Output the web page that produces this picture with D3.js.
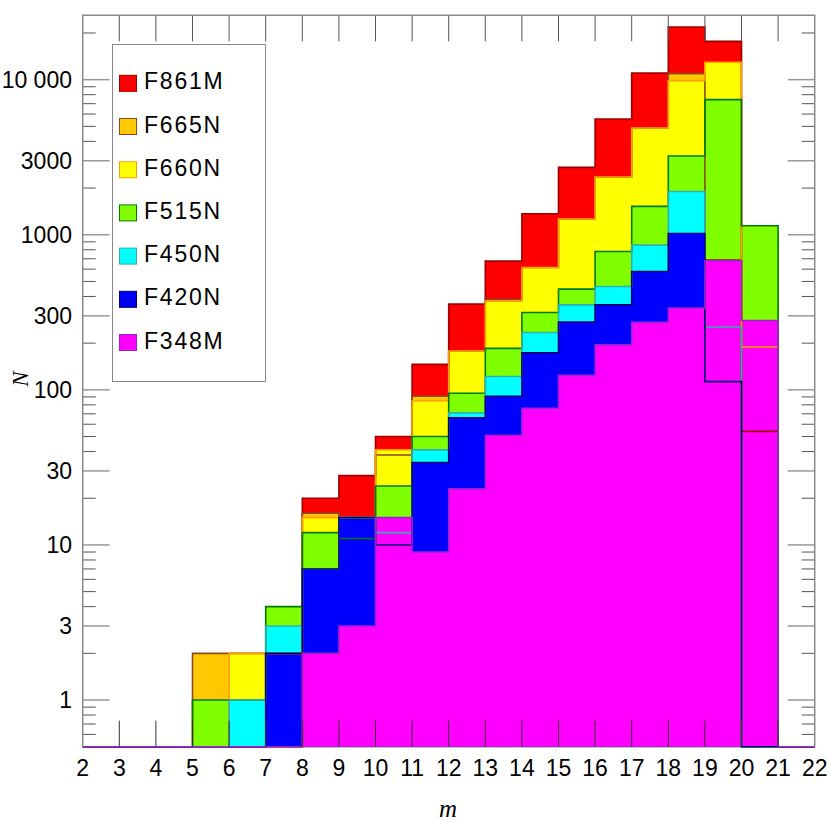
<!DOCTYPE html>
<html>
<head>
<meta charset="utf-8">
<script src="https://cdn.jsdelivr.net/npm/d3@7"></script>
<style>
  html, body { margin: 0; padding: 0; background: #fff; }
  svg { display: block; }
</style>
</head>
<body>
<div id="chart"></div>
<script>
// Bin left edges (magnitude m), one bin per unit
const binEdges = [2, 3, 4, 5, 6, 7, 8, 9, 10, 11, 12, 13, 14, 15, 16, 17, 18, 19, 20, 21];
const mMax = 22;

// Counts per bin for each filter
const F861M = [0, 0, 0, 0, 0, 0, 20, 28, 50, 146, 357, 676, 1365, 2717, 5576, 11040, 21860, 17660, 54, 0];
const F665N = [0, 0, 0, 2, 2, 2, 16, 15, 38, 91, 178, 382, 615, 1262, 2355, 4880, 10930, 690, 0, 0];
const F660N = [0, 0, 0, 0, 2, 2, 15, 15, 41, 85, 178, 373, 615, 1262, 2355, 4880, 9860, 12940, 189, 0];
const F515N = [0, 0, 0, 1, 1, 4, 12, 11, 24, 50, 95, 185, 315, 446, 780, 1523, 3220, 7430, 1143, 0];
const F450N = [0, 0, 0, 0, 1, 3, 7, 15, 12, 41, 71, 122, 234, 353, 464, 857, 1901, 254, 0, 0];
const F420N = [0, 0, 0, 0, 0, 2, 7, 15, 10, 34, 66, 91, 173, 274, 353, 580, 1019, 113, 0, 0];
const F348M = [0, 0, 0, 0, 0, 0, 2, 3, 15, 9, 23, 51, 76, 124, 195, 273, 337, 679, 280, 0];

const filterNames = ['F861M', 'F665N', 'F660N', 'F515N', 'F450N', 'F420N', 'F348M'];
const filterCounts = [F861M, F665N, F660N, F515N, F450N, F420N, F348M];
const fillColors = ['#ff0000', '#ffc800', '#ffff00', '#80ff00', '#00ffff', '#0000ff', '#ff00ff'];
const strokeColors = ['#9a0000', '#8b4a20', '#ffa000', '#007a00', '#30b0b0', '#000070', '#9a20d0'];

// Axis ticks
const xTicks = [2, 3, 4, 5, 6, 7, 8, 9, 10, 11, 12, 13, 14, 15, 16, 17, 18, 19, 20, 21, 22];
const yMajorTicks = [1, 3, 10, 30, 100, 300, 1000, 3000, 10000];
const yTickLabels = ['1', '3', '10', '30', '100', '300', '1000', '3000', '10 000'];
const yMinorTicks = [0.6, 0.7, 0.8, 0.9, 2, 4, 5, 6, 7, 8, 9, 20, 40, 50, 60, 70, 80, 90,
    200, 400, 500, 600, 700, 800, 900, 2000, 4000, 5000, 6000, 7000, 8000, 9000, 20000];

const width = 830;
const height = 830;
const plot = { left: 82.7, right: 814.7, top: 15.3, bottom: 746.7 };
const yMin = 0.5;

const svg = d3.select('#chart').append('svg')
    .attr('width', width)
    .attr('height', height);

// Scales
const x = d3.scaleLinear().domain([2, mMax]).range([plot.left, plot.right]);
const y = d3.scaleLog().domain([yMin, 26000]).range([plot.bottom, plot.top]).clamp(true);
const yv = v => y(Math.max(v, yMin));

// Step data: one point per bin edge, last value repeated at the right edge
const stepData = counts => binEdges.map((m, i) => ({ m, v: counts[i] }))
    .concat([{ m: mMax, v: counts[counts.length - 1] }]);

const area = d3.area()
    .curve(d3.curveStepAfter)
    .x(d => x(d.m))
    .y0(plot.bottom)
    .y1(d => yv(d.v));

const line = d3.line()
    .curve(d3.curveStepAfter)
    .x(d => x(d.m))
    .y(d => yv(d.v));

// Bottom frame line (covered by outlines)
svg.append('line')
    .attr('x1', plot.left).attr('x2', plot.right)
    .attr('y1', plot.bottom).attr('y2', plot.bottom)
    .attr('stroke', '#888').attr('stroke-width', 1.5);

// Fills first, in drawing order
svg.append('g').selectAll('path')
    .data(filterCounts)
    .enter()
    .append('path')
    .attr('d', d => area(stepData(d)))
    .attr('fill', (d, i) => fillColors[i])
    .attr('stroke', 'none');

// Then all outlines on top
svg.append('g').selectAll('path')
    .data(filterCounts)
    .enter()
    .append('path')
    .attr('d', d => line(stepData(d)))
    .attr('fill', 'none')
    .attr('stroke', (d, i) => strokeColors[i])
    .attr('stroke-width', 1.6);

// Ticks
const ticks = svg.append('g');
const innerX = xTicks.filter(t => t > 2 && t < mMax);
innerX.forEach(t => {
    ticks.append('line')
        .attr('x1', x(t)).attr('x2', x(t))
        .attr('y1', plot.top).attr('y2', plot.top + 26)
        .attr('stroke', '#555').attr('stroke-width', 1);
    ticks.append('line')
        .attr('x1', x(t)).attr('x2', x(t))
        .attr('y1', plot.bottom).attr('y2', plot.bottom - 26)
        .attr('stroke', '#333').attr('stroke-width', 1);
});

yMajorTicks.forEach(t => {
    [[plot.left, plot.left + 27], [plot.right, plot.right - 27]].forEach(([a, b]) => {
        ticks.append('line')
            .attr('x1', a).attr('x2', b)
            .attr('y1', y(t)).attr('y2', y(t))
            .attr('stroke', '#999').attr('stroke-width', 1.5);
    });
});

yMinorTicks.forEach(t => {
    [[plot.left, plot.left + 13], [plot.right, plot.right - 13]].forEach(([a, b]) => {
        ticks.append('line')
            .attr('x1', a).attr('x2', b)
            .attr('y1', y(t)).attr('y2', y(t))
            .attr('stroke', '#555').attr('stroke-width', 1);
    });
});

// Frame: left, top, right
svg.append('path')
    .attr('d', `M${plot.left},${plot.bottom}V${plot.top}H${plot.right}V${plot.bottom}`)
    .attr('fill', 'none')
    .attr('stroke', '#888')
    .attr('stroke-width', 1.5);

// Tick labels
const labelFont = '"Liberation Sans", Arial, Helvetica, sans-serif';

svg.append('g').selectAll('text')
    .data(xTicks)
    .enter()
    .append('text')
    .attr('x', d => x(d))
    .attr('y', 768)
    .attr('text-anchor', 'middle')
    .attr('dominant-baseline', 'central')
    .attr('font-family', labelFont)
    .attr('font-size', '23px')
    .attr('fill', '#000')
    .text(d => d);

svg.append('g').selectAll('text')
    .data(yMajorTicks)
    .enter()
    .append('text')
    .attr('x', 72)
    .attr('y', d => y(d))
    .attr('text-anchor', 'end')
    .attr('dominant-baseline', 'central')
    .attr('font-family', labelFont)
    .attr('font-size', '23px')
    .attr('fill', '#000')
    .text((d, i) => yTickLabels[i]);

// Axis titles
svg.append('text')
    .attr('x', 448)
    .attr('y', 817)
    .attr('text-anchor', 'middle')
    .attr('font-family', '"Liberation Serif", "DejaVu Serif", serif')
    .attr('font-style', 'italic')
    .attr('font-size', '25px')
    .text('m');

svg.append('text')
    .attr('transform', 'translate(20,379) rotate(-90)')
    .attr('text-anchor', 'middle')
    .attr('dominant-baseline', 'central')
    .attr('font-family', '"Liberation Serif", "DejaVu Serif", serif')
    .attr('font-style', 'italic')
    .attr('font-size', '23px')
    .text('N');

// Legend
const legend = svg.append('g').attr('class', 'legend');

legend.append('rect')
    .attr('x', 112.5).attr('y', 44.5)
    .attr('width', 153).attr('height', 337)
    .attr('fill', '#fff')
    .attr('stroke', '#888')
    .attr('stroke-width', 1);

const legendItems = legend.selectAll('.legend-item')
    .data(filterNames)
    .enter()
    .append('g')
    .attr('class', 'legend-item')
    .attr('transform', (d, i) => `translate(0, ${83.3 + i * 43.2})`);

legendItems.append('rect')
    .attr('x', 119.5)
    .attr('y', -8)
    .attr('width', 17)
    .attr('height', 16)
    .attr('fill', (d, i) => fillColors[i])
    .attr('stroke', (d, i) => strokeColors[i])
    .attr('stroke-width', 1);

legendItems.append('text')
    .attr('x', 144)
    .attr('y', -2)
    .attr('dominant-baseline', 'central')
    .attr('font-family', labelFont)
    .attr('font-size', '23px')
    .attr('letter-spacing', '1.8px')
    .attr('fill', '#000')
    .text(d => d);
</script>
</body>
</html>
